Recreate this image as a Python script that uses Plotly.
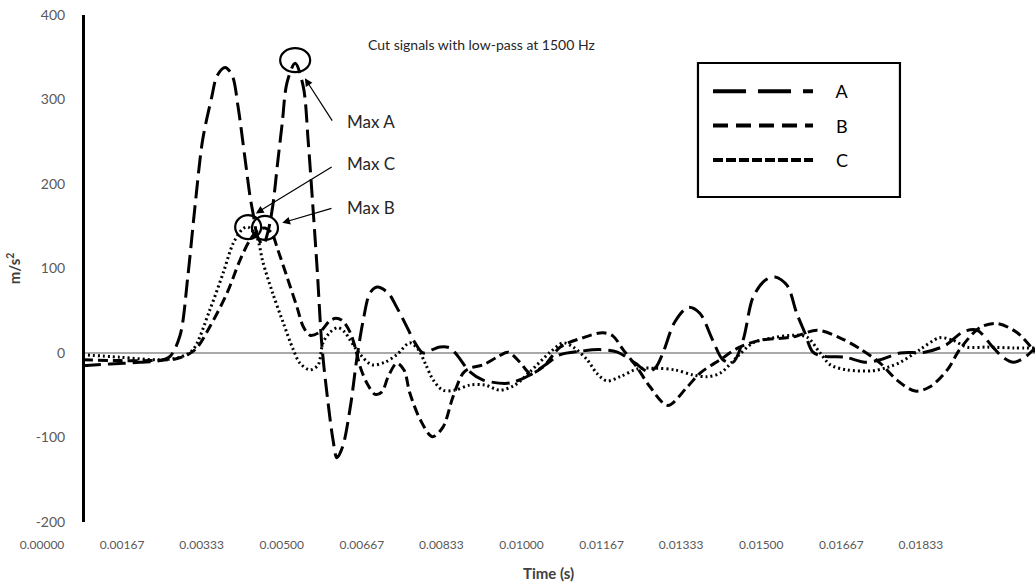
import plotly.graph_objects as go

# Low-pass (1500 Hz) acceleration signals, time in milliseconds, acceleration in m/s^2
time_a_ms = [0.85, 1.42, 2.04, 2.46, 2.67, 2.88, 3.04, 3.19, 3.35, 3.54, 3.65, 3.82, 3.97, 4.09, 4.23, 4.34,
             4.40, 4.50, 4.61, 4.71, 4.81, 4.92, 5.01, 5.11, 5.28, 5.45, 5.55, 5.65, 5.74, 5.84, 5.96,
             6.07, 6.15, 6.27, 6.43, 6.57, 6.70, 6.84, 6.99, 7.22, 7.40, 7.61, 7.78, 7.95, 8.14, 8.30,
             8.51, 8.65, 8.92, 9.20, 9.66, 9.86, 10.18, 10.50, 10.81, 11.22, 11.63, 12.00, 12.37, 12.64,
             12.80, 12.95, 13.20, 13.48, 13.72, 13.99, 14.20, 14.41, 14.62, 14.83, 15.08, 15.29, 15.54,
             15.74, 15.91, 16.08, 16.33, 16.75, 17.16, 17.48, 17.90, 18.41, 18.84, 19.21, 19.50, 19.83,
             20.04, 20.26, 20.50, 20.71]
accel_a = [-15, -13, -11, -9, -4, 21, 90, 173, 252, 303, 328, 338, 328, 291, 232, 185,
           166, 137, 128, 143, 173, 228, 272, 320, 343, 315, 252, 173, 98, 7, -56,
           -103, -124, -111, -64, -5, 39, 71, 78, 71, 54, 31, 12, 0, 4, 7,
           6, -2, -22, -32, -36, -34, -26, -14, -2, 2, 4, 1, -12, -22,
           -17, 0, 37, 54, 47, 15, -8, -11, 15, 66, 86, 90, 80,
           47, 24, 1, -4, -5, -11, -8, 0, 1, 9, 25, 27, 7,
           -5, -11, -5, 6]

time_b_ms = [0.85, 1.63, 2.26, 2.78, 3.04, 3.23, 3.50, 3.86, 4.13, 4.34, 4.50, 4.65, 4.79, 4.92, 5.11, 5.32,
             5.45, 5.59, 5.80, 6.00, 6.13, 6.27, 6.43, 6.53, 6.64, 6.78, 6.95, 7.09, 7.22, 7.40, 7.55,
             7.67, 7.89, 8.14, 8.36, 8.57, 8.78, 8.92, 9.20, 9.49, 9.72, 9.97, 10.18, 10.44, 10.81, 11.28,
             11.70, 11.91, 12.12, 12.41, 12.68, 13.05, 13.46, 13.72, 14.14, 14.55, 14.98, 15.66, 16.17,
             16.64, 17.06, 17.48, 17.83, 18.21, 18.52, 18.88, 19.15, 19.56, 19.91, 20.34, 20.71]
accel_b = [-8, -9, -9, -7, -2, 6, 31, 71, 110, 134, 145, 148, 142, 122, 90, 54,
           31, 21, 25, 38, 41, 38, 24, 7, -17, -36, -49, -46, -28, -12, -20,
           -47, -79, -99, -88, -52, -24, -18, -14, -5, 1, -11, -24, -17, 7, 18,
           24, 20, 4, -17, -40, -62, -40, -24, -8, 7, 15, 19, 27,
           18, 5, -12, -32, -45, -40, -20, 5, 30, 35, 24, 1]

time_c_ms = [0.85, 1.63, 2.46, 2.88, 3.15, 3.50, 3.78, 3.99, 4.19, 4.30, 4.48, 4.61, 4.81, 5.03, 5.24, 5.38,
             5.59, 5.76, 5.86, 6.00, 6.17, 6.31, 6.43, 6.64, 6.88, 7.15, 7.40, 7.67, 7.85, 7.99, 8.16,
             8.36, 8.61, 8.92, 9.24, 9.55, 9.86, 10.18, 10.60, 10.87, 11.08, 11.37, 11.57, 11.78, 12.06,
             12.41, 12.78, 13.20, 13.58, 13.87, 14.14, 14.49, 14.83, 15.25, 15.66, 15.95, 16.23, 16.44,
             16.79, 17.33, 17.63, 17.90, 18.31, 18.72, 19.00, 19.29, 19.71, 20.26, 20.71]
accel_c = [-2, -5, -8, -5, 4, 51, 95, 130, 147, 149, 137, 107, 71, 36, 4, -12,
           -20, -14, 12, 24, 30, 25, 15, -2, -14, -11, -2, 12, 4, -12, -32,
           -44, -44, -38, -38, -44, -38, -22, 1, 12, 7, -8, -24, -33, -28,
           -19, -18, -20, -26, -28, -24, -5, 12, 18, 21, 19, 0, -14,
           -20, -21, -17, -11, 4, 18, 15, 7, 7, 6, 6]

# labelled time marks every 1/600 s
time_ticks_s = [0.0, 0.00167, 0.00333, 0.00500, 0.00667, 0.00833, 0.01000,
                0.01167, 0.01333, 0.01500, 0.01667, 0.01833]
# acceleration marks (plain hyphen for negatives)
accel_ticks = [-200, -100, 0, 100, 200, 300, 400]

series_names = ["A", "B", "C"]
max_labels = ["Max A", "Max B", "Max C"]
axis_end_ms = 20.71

TEXT_FONT = "Lato, 'Open Sans', sans-serif"
TICK_GREY = "#595959"
TITLE_GREY = "#404040"

series = [
    (time_a_ms, accel_a, "18px,7px", "33px,12px"),
    (time_b_ms, accel_b, "10px,5px", "15px,8px"),
    (time_c_ms, accel_c, "2px,3px", "10px,3px"),
]

fig = go.Figure()

for name, (t_ms, acc, dash, legend_dash) in zip(series_names, series):
    fig.add_trace(go.Scatter(
        x=[t / 1000 for t in t_ms], y=acc, mode="lines", name=name, showlegend=False,
        line=dict(color="black", width=3, dash=dash, shape="spline", smoothing=0.9),
        hoverinfo="skip",
    ))

# legend samples use the wider dash pattern of the key
for name, (t_ms, acc, dash, legend_dash) in zip(series_names, series):
    fig.add_trace(go.Scatter(
        x=[None], y=[None], mode="lines", name="\u2003 " + name, legendgroup=name,
        line=dict(color="black", width=4, dash=legend_dash),
    ))

t_first = min(t[0] for t in (time_a_ms, time_b_ms, time_c_ms)) / 1000

shapes = [
    # horizontal zero line starting at the vertical axis
    dict(type="line", xref="x", yref="y", x0=t_first, x1=axis_end_ms / 1000, y0=0, y1=0,
         line=dict(color="#8c8c8c", width=1.5), layer="below"),
    # frame around the key
    dict(type="rect", xref="paper", yref="paper", x0=0.6606, x1=0.8640, y0=0.6410, y1=0.9053,
         line=dict(color="black", width=2.2)),
]
annotations = []

# circles around each maximum and arrows from the labels
circle_geom = {"A": (-15, 15, -9, 15), "B": (-13, 13, -12, 12), "C": (-13, 13, -12, 12)}
arrow_geom = {"A": (38, 59, 0, 18), "B": (68, -20, 0, 18), "C": (85, -52, 9, 9)}
label_pos = {"A": 0.789, "B": 0.621, "C": 0.708}
for name, label, (t_ms, acc, _, _) in zip(series_names, max_labels, series):
    i = max(range(len(acc)), key=lambda k: acc[k])
    tx, vy = t_ms[i] / 1000, acc[i]
    x0, x1, y0, y1 = circle_geom[name]
    shapes.append(dict(type="circle", xref="x", yref="y", xsizemode="pixel", ysizemode="pixel",
                       xanchor=tx, yanchor=vy, x0=x0, x1=x1, y0=y0, y1=y1,
                       line=dict(color="black", width=2.2)))
    ax, ay, yshift, standoff = arrow_geom[name]
    annotations.append(dict(x=tx, y=vy, xref="x", yref="y", text="", showarrow=True,
                            ax=ax, ay=ay, yshift=yshift, standoff=standoff,
                            arrowhead=2, arrowsize=1.3, arrowwidth=1.2, arrowcolor="black"))
    annotations.append(dict(x=0.3051, y=label_pos[name], xref="paper", yref="paper",
                            text=label, showarrow=False, xanchor="left", yanchor="middle",
                            font=dict(family=TEXT_FONT, size=17, color="#262626")))

annotations.append(dict(x=0.4431, y=0.941, xref="paper", yref="paper",
                        text="Cut signals with low-pass at 1500 Hz", showarrow=False,
                        xanchor="center", yanchor="middle",
                        font=dict(family=TEXT_FONT, size=14, color="#262626")))
annotations.append(dict(x=0.5096, y=-0.101, xref="paper", yref="paper",
                        text="<b>Time (s)</b>", showarrow=False,
                        xanchor="center", yanchor="middle",
                        font=dict(family=TEXT_FONT, size=15, color=TITLE_GREY)))

fig.update_layout(
    width=1035, height=585,
    margin=dict(l=42, r=0, t=15, b=63),
    paper_bgcolor="white", plot_bgcolor="white",
    showlegend=True,
    legend=dict(x=0.6707, y=0.8856, xanchor="left", yanchor="top",
                bgcolor="rgba(0,0,0,0)", borderwidth=0,
                font=dict(family=TEXT_FONT, size=18, color="black"),
                itemwidth=100, tracegroupgap=8),
    shapes=shapes,
    annotations=annotations,
    xaxis=dict(range=[0, axis_end_ms / 1000], tickmode="array", tickvals=time_ticks_s,
               tickformat=".5f",
               showgrid=False, zeroline=False, showline=False, ticks="",
               ticklabelstandoff=14,
               tickfont=dict(family=TEXT_FONT, size=12, color=TICK_GREY)),
    yaxis=dict(range=[-200, 400], tickmode="array", tickvals=accel_ticks,
               ticktext=[str(v) for v in accel_ticks], showgrid=False,
               anchor="free", position=0.0413,
               showline=True, linewidth=3, linecolor="black", ticks="",
               ticklabelstandoff=14, zeroline=False,
               tickfont=dict(family=TEXT_FONT, size=14, color=TICK_GREY),
               title=dict(text="<b>m/s<sup>2</sup></b>", standoff=10,
                          font=dict(family=TEXT_FONT, size=15, color=TITLE_GREY))),
)

fig.write_html("out.html")
